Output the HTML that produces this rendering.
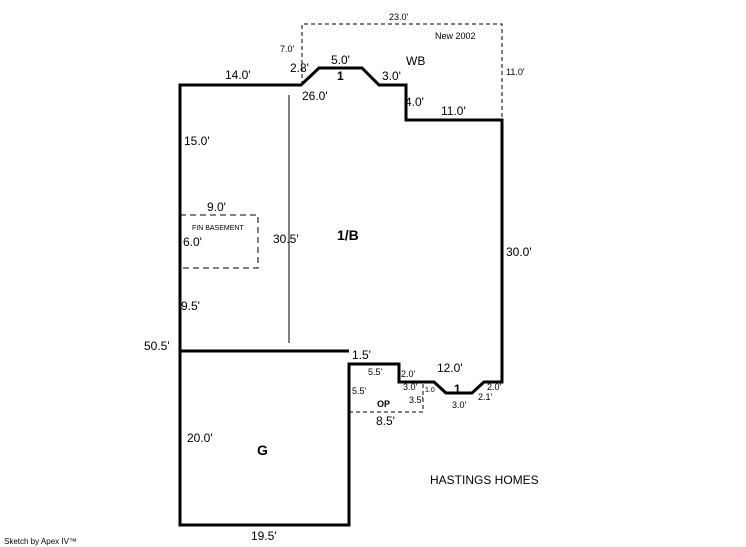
<!DOCTYPE html>
<html><head><style>
body{margin:0;background:#fff;width:746px;height:547px;overflow:hidden}
svg{display:block}
text{font-family:"Liberation Sans",sans-serif;font-size:12px;fill:#000}
.s{font-size:9px}
</style></head><body>
<svg width="746" height="547" viewBox="0 0 746 547">
<g fill="none" stroke="#000">
<path d="M302,85 V24 H502 V120" stroke-dasharray="4,3" stroke-width="1"/>
<path d="M180,215 H258 V268 H180" stroke-dasharray="6,4" stroke-width="1"/>
<path d="M349,412 H423 V383" stroke-dasharray="4,3" stroke-width="1"/>
<line x1="289" y1="95" x2="289" y2="343" stroke-width="1"/>
<path d="M180,525 V85 H301 L319,68 H362 L379,85 H406 V120 H502 V382 H484 L472,393 H446 L434,382 H399 V364 H349 V525 Z" stroke-width="3"/>
<path d="M180,351 H349" stroke-width="3"/>
</g>
<text x="389" y="20" class="s" font-size="10">23.0'</text>
<text x="435" y="39" class="s" font-size="10">New 2002</text>
<text x="280" y="52" class="s" font-size="10">7.0'</text>
<text x="506" y="75" class="s" font-size="10">11.0'</text>
<text x="331" y="64">5.0'</text>
<text x="406" y="65">WB</text>
<text x="290" y="72">2.8'</text>
<text x="225" y="79">14.0'</text>
<text x="337" y="80" font-weight="bold">1</text>
<text x="382" y="80">3.0'</text>
<text x="302" y="100">26.0'</text>
<text x="405" y="106">4.0'</text>
<text x="441" y="115">11.0'</text>
<text x="184" y="145">15.0'</text>
<text x="207" y="211">9.0'</text>
<text x="192" y="230" style="font-size:7px">FIN BASEMENT</text>
<text x="183" y="246">6.0'</text>
<text x="273" y="243">30.5'</text>
<text x="337" y="240" font-weight="bold" style="font-size:14px">1/B</text>
<text x="506" y="256">30.0'</text>
<text x="181" y="310">9.5'</text>
<text x="144" y="350">50.5'</text>
<text x="352" y="359">1.5'</text>
<text x="437" y="372">12.0'</text>
<text x="368" y="375" class="s">5.5'</text>
<text x="401" y="377" class="s">2.0'</text>
<text x="403" y="390" class="s">3.0'</text>
<text x="425" y="392" style="font-size:7px">1.0</text>
<text x="454" y="393" font-weight="bold">1</text>
<text x="487" y="390" class="s">2.0'</text>
<text x="478" y="400" class="s">2.1'</text>
<text x="352" y="394" class="s">5.5'</text>
<text x="377" y="407" font-weight="bold" class="s" font-size="10">OP</text>
<text x="409" y="403" class="s">3.5'</text>
<text x="452" y="408" class="s">3.0'</text>
<text x="376" y="425">8.5'</text>
<text x="187" y="442">20.0'</text>
<text x="257" y="455" font-weight="bold" style="font-size:14px">G</text>
<text x="430" y="484">HASTINGS HOMES</text>
<text x="251" y="540">19.5'</text>
<text x="4" y="544" style="font-size:8px">Sketch by Apex IV™</text>
</svg>
</body></html>
